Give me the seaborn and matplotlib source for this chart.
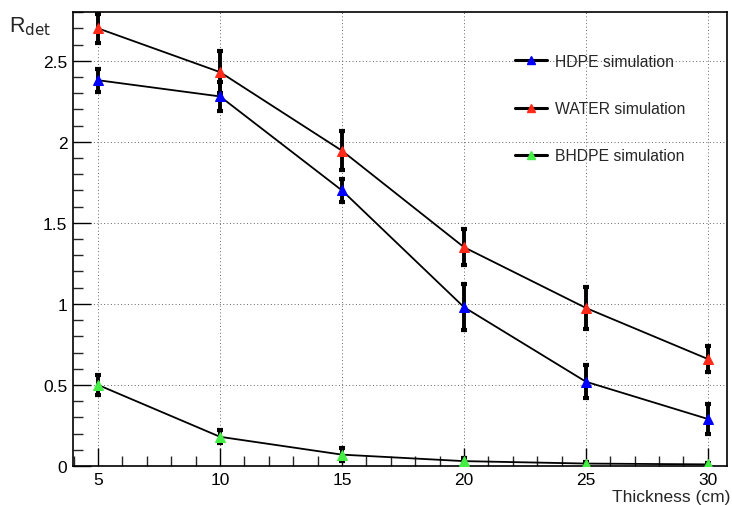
import numpy as np
import pandas as pd
import seaborn as sns
import matplotlib.pyplot as plt
from matplotlib.ticker import MultipleLocator
from matplotlib.lines import Line2D

# thickness of the moderator (cm)
thickness = [5, 10, 15, 20, 25, 30]

# simulated R_det values and their uncertainties
hdpe = [2.38, 2.28, 1.70, 0.98, 0.52, 0.29]
hdpe_err = [0.07, 0.09, 0.07, 0.14, 0.10, 0.09]
water = [2.70, 2.43, 1.945, 1.35, 0.975, 0.66]
water_err = [0.09, 0.13, 0.12, 0.11, 0.13, 0.08]
bhdpe = [0.50, 0.18, 0.07, 0.03, 0.015, 0.01]
bhdpe_err = [0.06, 0.04, 0.04, 0.02, 0.01, 0.01]

labels = ['HDPE simulation', 'WATER simulation', 'BHDPE simulation']
colors = ['#0000ff', '#ff2a1a', '#44ee44']

df = pd.DataFrame({
    'thickness': thickness * 3,
    'R': hdpe + water + bhdpe,
    'err': hdpe_err + water_err + bhdpe_err,
    'sample': [labels[0]] * 6 + [labels[1]] * 6 + [labels[2]] * 6,
})

sns.set_style('ticks')
plt.rcParams['font.family'] = ['Liberation Sans', 'DejaVu Sans']

fig = plt.figure(figsize=(7.32, 5.06), dpi=100)
ax = fig.add_axes([0.0997, 0.0771, 0.8933, 0.8969])

for lab, col in zip(labels, colors):
    sub = df[df['sample'] == lab]
    ax.errorbar(sub['thickness'], sub['R'], yerr=sub['err'], fmt='none',
                ecolor='black', elinewidth=2.8, capsize=2, capthick=3, zorder=2)
    sns.lineplot(data=sub, x='thickness', y='R', ax=ax, color='black', lw=1.3,
                 marker='^', markersize=6.5, markerfacecolor=col,
                 markeredgecolor=col, zorder=3, legend=False)

ax.set_xlim(3.97, 30.78)
ax.set_ylim(0, 2.80)
ax.xaxis.set_major_locator(MultipleLocator(5))
ax.xaxis.set_minor_locator(MultipleLocator(1))
ax.yaxis.set_major_locator(MultipleLocator(0.5))
ax.yaxis.set_minor_locator(MultipleLocator(0.1))
ax.yaxis.set_major_formatter(plt.FuncFormatter(lambda v, p: f'{v:g}'))
ax.tick_params(axis='both', which='major', direction='in', length=13,
               width=1, labelsize=12.5, colors='black')
ax.tick_params(axis='both', which='minor', direction='in', length=7, width=1)
ax.tick_params(axis='x', pad=4)
ax.tick_params(axis='y', pad=4)
ax.grid(True, which='major', linestyle=(0, (1, 2.5)), color='#666666', lw=0.7)
for s in ax.spines.values():
    s.set_color('black')
    s.set_linewidth(1.2)
ax.set_xlabel('')
ax.set_ylabel('')

fig.text(0.998, 0.016, 'Thickness (cm)', ha='right', va='center', fontsize=12.5)
fig.text(0.012, 0.935, r'R$_{\rm det}$', ha='left', va='baseline', fontsize=15.5)

handles = [Line2D([], [], color='black', lw=2.2, marker='^', markersize=6,
                  markerfacecolor=c, markeredgecolor=c) for c in colors]
ax.legend(handles, labels, loc='upper left', bbox_to_anchor=(0.655, 0.939),
          frameon=False, fontsize=11.3, handlelength=2.0, labelspacing=2.05,
          handletextpad=0.5)

fig.savefig('out.png', dpi=100)
